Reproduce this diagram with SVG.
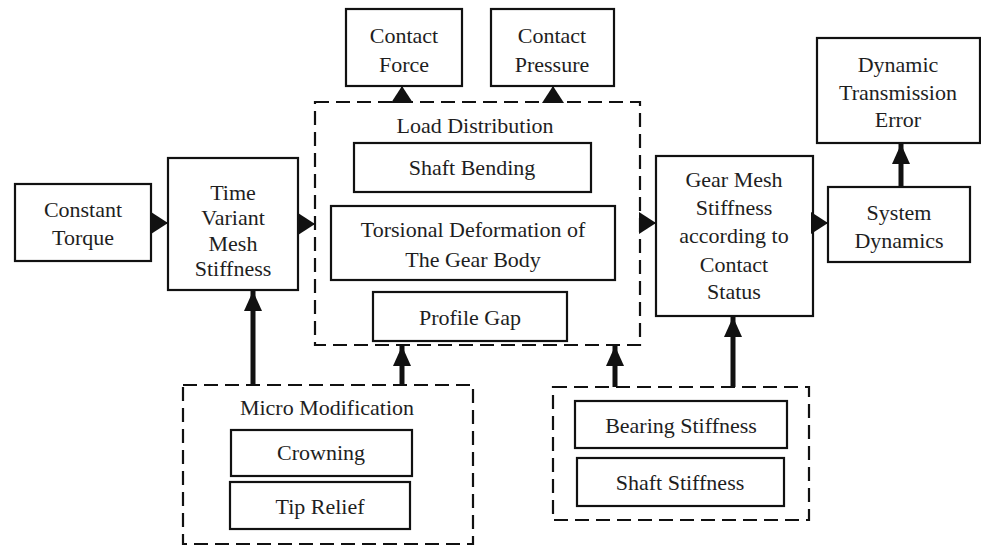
<svg xmlns="http://www.w3.org/2000/svg" width="981" height="546" viewBox="0 0 981 546">
<defs>
<style>
.box{fill:#fff;stroke:#111;stroke-width:2.2}
.dash{fill:none;stroke:#111;stroke-width:2.2;stroke-dasharray:14 7}
text{font-size:22px;fill:#1e1e1e;text-anchor:middle}
.thin{stroke:#111;stroke-width:2;fill:none}
.thick{stroke:#111;stroke-width:5;fill:none}
</style>
<marker id="tri" markerUnits="userSpaceOnUse" markerWidth="17" markerHeight="22" viewBox="0 0 17 22" refX="17" refY="11" orient="auto">
<path d="M0,0 L17,11 L0,22 z" fill="#111"/>
</marker>
<marker id="head" markerUnits="userSpaceOnUse" markerWidth="20" markerHeight="18" viewBox="0 0 20 18" refX="20" refY="9" orient="auto">
<path d="M0,0 L20,9 L0,18 z" fill="#111"/>
</marker>
</defs>
<rect width="981" height="546" fill="#fff"/>
<g font-family="Liberation Serif, DejaVu Serif, serif">
<g id="constant-torque">
<rect class="box" x="15" y="184" width="136" height="77"/>
<text x="83" y="217">Constant</text>
<text x="83" y="245">Torque</text>
</g>

<g id="tvms">
<rect class="box" x="168" y="158" width="130" height="132"/>
<text x="233" y="200">Time</text>
<text x="233" y="225">Variant</text>
<text x="233" y="251">Mesh</text>
<text x="233" y="276">Stiffness</text>
</g>

<g id="load-distribution">
<rect class="dash" x="315" y="102" width="325" height="243"/>
<text x="475" y="133">Load Distribution</text>
<g id="shaft-bending">
<rect class="box" x="354" y="143" width="237" height="49"/>
<text x="472" y="175">Shaft Bending</text>
</g>
<g id="torsional">
<rect class="box" x="331" y="206" width="284" height="74"/>
<text x="473" y="237">Torsional Deformation of</text>
<text x="473" y="267">The Gear Body</text>
</g>
<g id="profile-gap">
<rect class="box" x="373" y="292" width="194" height="49"/>
<text x="470" y="325">Profile Gap</text>
</g>
</g>

<g id="contact-force">
<rect class="box" x="346" y="9" width="116" height="77"/>
<text x="404" y="43">Contact</text>
<text x="404" y="72">Force</text>
</g>

<g id="contact-pressure">
<rect class="box" x="491" y="9" width="123" height="77"/>
<text x="552" y="43">Contact</text>
<text x="552" y="72">Pressure</text>
</g>

<g id="gear-mesh">
<rect class="box" x="656" y="156" width="157" height="160"/>
<text x="734" y="187">Gear Mesh</text>
<text x="734" y="215">Stiffness</text>
<text x="734" y="243">according to</text>
<text x="734" y="272">Contact</text>
<text x="734" y="299">Status</text>
</g>

<g id="system-dynamics">
<rect class="box" x="828" y="187" width="142" height="75"/>
<text x="899" y="220">System</text>
<text x="899" y="248">Dynamics</text>
</g>

<g id="dte">
<rect class="box" x="817" y="38" width="163" height="105"/>
<text x="898" y="72">Dynamic</text>
<text x="898" y="100">Transmission</text>
<text x="898" y="127">Error</text>
</g>

<g id="micro-modification">
<rect class="dash" x="183" y="385" width="290" height="159"/>
<text x="327" y="415">Micro Modification</text>
<g id="crowning">
<rect class="box" x="231" y="430" width="181" height="46"/>
<text x="321" y="460">Crowning</text>
</g>
<g id="tip-relief">
<rect class="box" x="230" y="482" width="180" height="47"/>
<text x="320" y="514">Tip Relief</text>
</g>
</g>

<g id="stiffness-group">
<rect class="dash" x="553" y="387" width="256" height="133"/>
<g id="bearing-stiffness">
<rect class="box" x="575" y="401" width="212" height="47"/>
<text x="681" y="433">Bearing Stiffness</text>
</g>
<g id="shaft-stiffness">
<rect class="box" x="577" y="458" width="207" height="48"/>
<text x="680" y="490">Shaft Stiffness</text>
</g>
</g>
</g>

<g id="connectors">
<line class="thin" x1="151" y1="223" x2="168" y2="223" marker-end="url(#tri)"/>
<line class="thin" x1="298" y1="224" x2="315" y2="224" marker-end="url(#tri)"/>
<line class="thin" x1="640" y1="223" x2="656" y2="223" marker-end="url(#tri)"/>
<line class="thin" x1="813" y1="223" x2="828" y2="223" marker-end="url(#tri)"/>
<line class="thin" x1="402" y1="102" x2="402" y2="86" marker-end="url(#tri)"/>
<line class="thin" x1="553" y1="102" x2="553" y2="86" marker-end="url(#tri)"/>
<line class="thick" x1="901" y1="187" x2="901" y2="144" marker-end="url(#head)"/>
<line class="thick" x1="253" y1="385" x2="253" y2="291" marker-end="url(#head)"/>
<line class="thick" x1="402" y1="385" x2="402" y2="346" marker-end="url(#head)"/>
<line class="thick" x1="615" y1="387" x2="615" y2="346" marker-end="url(#head)"/>
<line class="thick" x1="733" y1="387" x2="733" y2="317" marker-end="url(#head)"/>
</g>
</svg>
